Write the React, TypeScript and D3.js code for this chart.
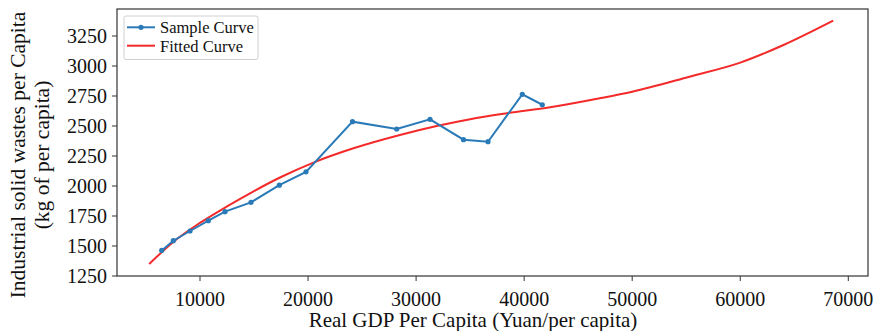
import React from "react";
import * as d3 from "d3";

const sampleX = [6455, 7529, 9075, 10768, 12314, 14720, 17339, 19810, 24114, 28205, 31287, 34387, 36654, 39829, 41680];
const sampleY = [1463, 1544, 1625, 1711, 1786, 1864, 2007, 2118, 2536, 2475, 2556, 2386, 2369, 2764, 2677];

const fitX = [5300, 7500, 10000, 12500, 15000, 17500, 20500, 24200, 28500, 31900, 35000, 38400, 42400, 47000, 50000, 55300, 60000, 64000, 68600];
const fitY = [1350, 1532, 1693, 1830, 1958, 2075, 2195, 2314, 2425, 2500, 2557, 2606, 2656, 2731, 2786, 2911, 3028, 3175, 3378];

const xTicks = [10000, 20000, 30000, 40000, 50000, 60000, 70000];
const yTicks = [1250, 1500, 1750, 2000, 2250, 2500, 2750, 3000, 3250];

const W = 874, H = 331;
const L = 117, R = 868, T = 9, B = 276;
const FONT = "'Liberation Serif', 'Times New Roman', serif";

export default function App() {
  const x = d3.scaleLinear().domain([2318, 71823]).range([L, R]);
  const y = d3.scaleLinear().domain([1250, 3475]).range([B, T]);
  const sample = sampleX.map((v, i) => [v, sampleY[i]] as [number, number]);
  const fit = fitX.map((v, i) => [v, fitY[i]] as [number, number]);
  const line = d3.line<[number, number]>().x(d => x(d[0])).y(d => y(d[1]));
  const fitLine = d3.line<[number, number]>().x(d => x(d[0])).y(d => y(d[1])).curve(d3.curveMonotoneX);
  const blue = "#2a7ab8";
  const red = "#f42a2a";
  return (
    <svg width={W} height={H} style={{ position: "absolute", left: 0, top: 0, background: "#fff" }} fontFamily={FONT}>
      <rect x={0} y={0} width={W} height={H} fill="#fff" />
      <path d={fitLine(fit) || ""} fill="none" stroke={red} strokeWidth={2} />
      <path d={line(sample) || ""} fill="none" stroke={blue} strokeWidth={2} />
      {sample.map((d, i) => (
        <circle key={i} cx={x(d[0])} cy={y(d[1])} r={2.6} fill={blue} />
      ))}
      <rect x={L} y={T} width={R - L} height={B - T} fill="none" stroke="#333" strokeWidth={1.2} />
      {xTicks.map(t => (
        <g key={t} transform={`translate(${x(t)},${B})`}>
          <line y1={0} y2={5} stroke="#333" strokeWidth={1} />
          <text y={29.5} textAnchor="middle" fontSize={20} fill="#111">{t}</text>
        </g>
      ))}
      {yTicks.map(t => (
        <g key={t} transform={`translate(${L},${y(t)})`}>
          <line x1={0} x2={-5} stroke="#333" strokeWidth={1} />
          <text x={-10} dy="0.34em" textAnchor="end" fontSize={20} fill="#111">{t}</text>
        </g>
      ))}
      <text x={473} y={326.5} textAnchor="middle" fontSize={21} fill="#111">Real GDP Per Capita (Yuan/per capita)</text>
      <text transform="translate(25,155) rotate(-90)" textAnchor="middle" fontSize={21.5} fill="#111">Industrial solid wastes per Capita</text>
      <text transform="translate(49,155) rotate(-90)" textAnchor="middle" fontSize={21.5} fill="#111">(kg of per capita)</text>
      <g>
        <rect x={124} y={16} width={134} height={43.5} rx={2} fill="#fff" fillOpacity={0.8} stroke="#d0d0d0" strokeWidth={1} />
        <line x1={127} x2={155} y1={27.3} y2={27.3} stroke={blue} strokeWidth={2} />
        <circle cx={141} cy={27.3} r={2.6} fill={blue} />
        <text x={160} y={33} fontSize={16.5} fill="#111">Sample Curve</text>
        <line x1={127} x2={155} y1={45.7} y2={45.7} stroke={red} strokeWidth={2} />
        <text x={160} y={51.5} fontSize={16.5} fill="#111">Fitted Curve</text>
      </g>
    </svg>
  );
}
